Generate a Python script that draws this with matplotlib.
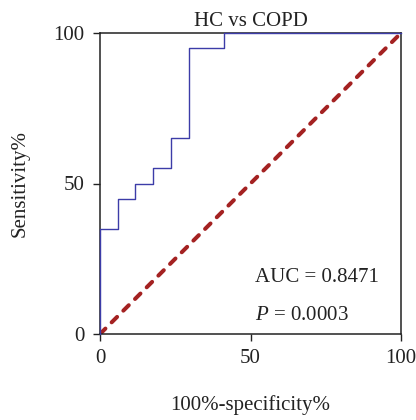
import matplotlib
matplotlib.use("Agg")
import matplotlib.pyplot as plt

plt.rcParams["font.family"] = ["Liberation Serif", "DejaVu Serif"]
plt.rcParams["mathtext.fontset"] = "custom"
plt.rcParams["mathtext.it"] = "Liberation Serif:italic"
plt.rcParams["mathtext.rm"] = "Liberation Serif"

# ROC curve points (100% - specificity, sensitivity), in percent
fpr = [0, 0, 5.88, 5.88, 11.76, 11.76, 17.65, 17.65, 23.53, 23.53,
       29.41, 29.41, 41.18, 41.18, 100]
tpr = [0, 35, 35, 45, 45, 50, 50, 55, 55, 65, 65, 95, 95, 100, 100]
ref_line = [0, 100]
ticks = [0, 50, 100]
title = "HC vs COPD"
auc = 0.8471
p_value = 0.0003

fig = plt.figure(figsize=(4.16, 4.20), dpi=100)
ax = fig.add_axes([100 / 416, 86 / 420, 301 / 416, 301 / 420])

ax.plot(ref_line, ref_line, color="#a42222", lw=2.9, ls=(0, (1.9, 2.2)),
        dash_capstyle="round", zorder=2)
ax.plot(fpr, tpr, color="#3c3ca8", lw=1.0, zorder=3, clip_on=False)

ax.set_xlim(0, 100)
ax.set_ylim(0, 100)
ax.set_xticks(ticks)
ax.set_yticks(ticks)
ax.tick_params(direction="out", length=5, width=1.0, labelsize=15, pad=6,
               color="#222222", labelcolor="#222222")
for s in ax.spines.values():
    s.set_linewidth(1.1)
    s.set_color("#222222")

ax.set_title(title, fontsize=15, pad=5, color="#222222")
ax.set_xlabel("100%-specificity%", fontsize=15, labelpad=19, color="#222222")
ax.set_ylabel("Sensitivity%", fontsize=15, labelpad=17, color="#222222")

ax.text(51.5, 17.4, f"AUC = {auc:.4f}", fontsize=15, va="baseline",
        ha="left", color="#222222")
ax.text(51.5, 4.6, f"$P$ = {p_value:.4f}", fontsize=15, va="baseline",
        ha="left", color="#222222")

fig.savefig("out.png", dpi=100)
